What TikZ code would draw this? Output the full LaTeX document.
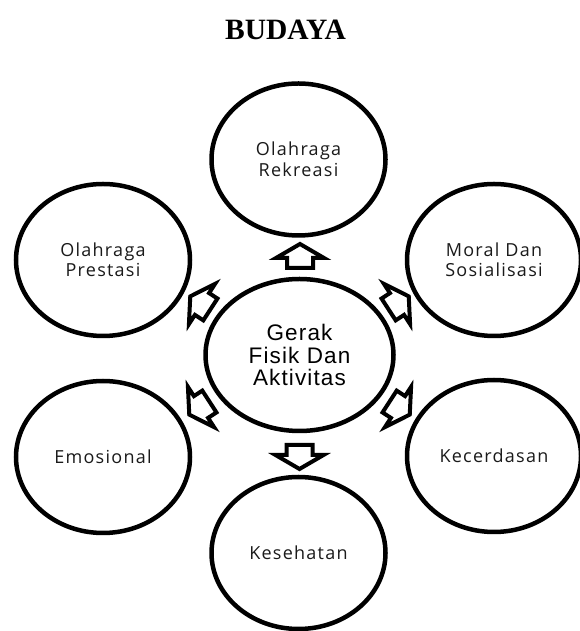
\documentclass[tikz,border=0pt]{standalone}
\usepackage{fontspec}
\setmainfont{Liberation Serif}
\newfontfamily\outerfont[LetterSpace=7]{Open Sans}
\newfontfamily\hubfont[LetterSpace=5]{Liberation Sans}
\usetikzlibrary{shapes.geometric}
\definecolor{txtgray}{HTML}{1A1A1A}
\tikzset{
  bubble/.style={ellipse, draw=black, line width=4.5pt, fill=white, inner sep=0pt,
    minimum width=174pt, minimum height=152pt, align=center, text=txtgray,
    font=\outerfont\fontsize{18}{20.5}\selectfont},
  hub/.style={ellipse, draw=black, line width=4.5pt, fill=white, inner sep=0pt,
    minimum width=188pt, minimum height=152pt, align=center, text=black,
    font=\hubfont\fontsize{22.5}{22.5}\selectfont},
  blockarrow/.pic={
    \draw[line width=4pt, line join=miter, fill=white]
      (-10,-13) -- (0,-13) -- (0,-24) -- (14,0) -- (0,24) -- (0,13) -- (-10,13) -- cycle;
  }
}
\begin{document}
\begin{tikzpicture}[x=1pt,y=1pt]
\useasboundingbox (0,0) rectangle (580,631);
\fill[white] (0,0) rectangle (580,631);
\node[anchor=base, inner sep=0pt, font=\bfseries\fontsize{29.5}{31}\selectfont] (title) at (285.5,591) {BUDAYA};

\node[hub] (hubc) at (299.5,276) {Gerak\\Fisik Dan\\Aktivitas};

\node[bubble] (rek) at (298.5,471.5) {Olahraga\\Rekreasi};
\node[bubble] (pres) at (103,371) {Olahraga\\Prestasi};
\node[bubble] (moral) at (494,371) {Moral Dan\\Sosialisasi};
\node[bubble] (emo) at (103,174) {Emosional};
\node[bubble] (cer) at (494,175) {Kecerdasan};
\node[bubble] (kes) at (298.5,78) {Kesehatan};

\pic (aTop) [rotate=90] at (300,373) {blockarrow};
\pic (aBot) [rotate=270] at (299.5,176) {blockarrow};
\pic (aUL) [rotate=147] at (202,327) {blockarrow};
\pic (aUR) [rotate=33] at (397,327) {blockarrow};
\pic (aLL) [rotate=213] at (201,224) {blockarrow};
\pic (aLR) [rotate=327] at (398,224) {blockarrow};
\end{tikzpicture}
\end{document}
